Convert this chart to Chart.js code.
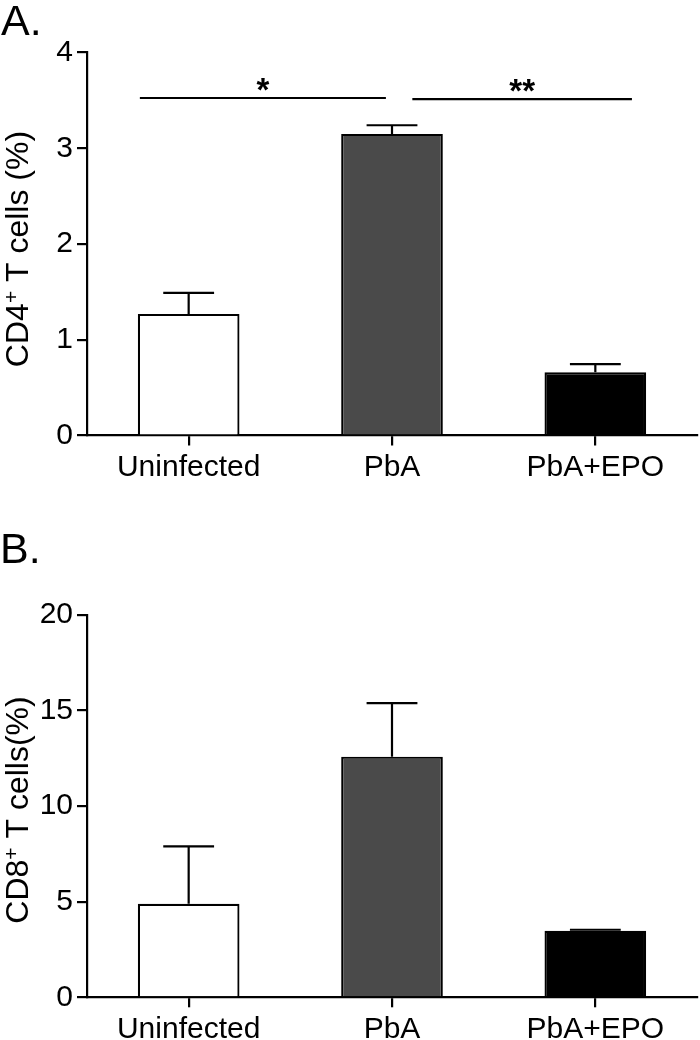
<!DOCTYPE html>
<html><head><meta charset="utf-8">
<script src="https://cdn.jsdelivr.net/npm/chart.js@4.4.0/dist/chart.umd.min.js"></script>
<style>
html,body{margin:0;padding:0;background:#fff;}
#wrap{position:relative;width:700px;height:1040px;overflow:hidden;}
.box{position:absolute;left:0;width:700px;height:520px;}
canvas{display:block;}
</style></head><body>
<div id="wrap">
<div class="box" style="top:0"><canvas id="cA" width="700" height="520"></canvas></div>
<div class="box" style="top:520px"><canvas id="cB" width="700" height="520"></canvas></div>
</div>
<script>
// ---- data ----
const categories = ['Uninfected', 'PbA', 'PbA+EPO'];
const cd4Means = [1.27, 3.15, 0.66];
const cd4Errors = [0.22, 0.09, 0.085];
const cd8Means = [4.89, 12.58, 3.48];
const cd8Errors = [3.0, 2.8, 0.05];
const cd4Ticks = [0, 1, 2, 3, 4];
const cd8Ticks = [0, 5, 10, 15, 20];
const cd4SigFrom = [-0.24, 1.10];
const cd4SigTo = [0.97, 2.18];
const cd4SigLevel = [3.525, 3.514];
const cd4SigLabel = ['*', '**'];
const barColors = ['#ffffff', '#4a4a4a', '#000000'];

const FONT = '"Liberation Sans", Arial, Helvetica, sans-serif';

const errorBarPlugin = {
  id: 'errbars',
  afterDatasetsDraw(chart, args, opts) {
    const ctx = chart.ctx, y = chart.scales.y;
    const meta = chart.getDatasetMeta(0);
    ctx.save();
    ctx.strokeStyle = '#000'; ctx.lineWidth = 2.2;
    meta.data.forEach((el, i) => {
      const top = y.getPixelForValue(opts.means[i] + opts.errors[i]);
      const half = el.width / 4;
      ctx.beginPath();
      ctx.moveTo(el.x, el.y); ctx.lineTo(el.x, top);
      ctx.moveTo(el.x - half, top); ctx.lineTo(el.x + half, top);
      ctx.stroke();
    });
    ctx.restore();
  }
};

const sigPlugin = {
  id: 'sig',
  afterDatasetsDraw(chart, args, opts) {
    if (!opts.from) return;
    const ctx = chart.ctx, x = chart.scales.x, y = chart.scales.y;
    ctx.save();
    ctx.strokeStyle = '#000'; ctx.fillStyle = '#000'; ctx.lineWidth = 2.2;
    ctx.font = 'bold 33px ' + FONT; ctx.textAlign = 'center'; ctx.textBaseline = 'alphabetic';
    opts.from.forEach((f, i) => {
      const x1 = x.getPixelForValue(f), x2 = x.getPixelForValue(opts.to[i]);
      const yy = y.getPixelForValue(opts.level[i]);
      ctx.beginPath(); ctx.moveTo(x1, yy); ctx.lineTo(x2, yy); ctx.stroke();
      ctx.fillText(opts.label[i], (x1 + x2) / 2, yy + 3);
    });
    ctx.restore();
  }
};

const titlePlugin = {
  id: 'ytitle',
  afterDraw(chart, args, opts) {
    const ctx = chart.ctx, a = chart.chartArea;
    ctx.save();
    ctx.fillStyle = '#000';
    // panel letter
    ctx.font = '43px ' + FONT; ctx.textAlign = 'left'; ctx.textBaseline = 'alphabetic';
    ctx.fillText(opts.letter, opts.letterX, opts.letterY);
    // rotated y title with superscript
    ctx.translate(opts.x, (a.top + a.bottom) / 2 + opts.dy);
    ctx.rotate(-Math.PI / 2);
    const big = '32px ' + FONT, small = '21px ' + FONT;
    ctx.font = big; const w1 = ctx.measureText(opts.pre).width; const w3 = ctx.measureText(opts.post).width;
    ctx.font = small; const w2 = ctx.measureText(opts.sup).width;
    let px = -(w1 + w2 + w3) / 2;
    ctx.font = big; ctx.fillText(opts.pre, px, 0); px += w1;
    ctx.font = small; ctx.fillText(opts.sup, px, -10); px += w2;
    ctx.font = big; ctx.fillText(opts.post, px, 0);
    ctx.restore();
  }
};

function makeChart(id, means, errors, ticksArr, geom, titleOpts, sigOpts) {
  return new Chart(document.getElementById(id), {
    type: 'bar',
    data: {
      labels: categories,
      datasets: [{
        data: means,
        backgroundColor: barColors,
        borderColor: '#000',
        borderWidth: 2.2,
        borderSkipped: 'start',
        barPercentage: 0.5,
        categoryPercentage: 1.0
      }]
    },
    options: {
      responsive: false,
      animation: false,
      devicePixelRatio: 1,
      layout: { padding: { top: geom.top, right: 3, left: 0, bottom: 0 } },
      plugins: {
        legend: { display: false },
        tooltip: { enabled: false },
        errbars: { means: means, errors: errors },
        sig: sigOpts,
        ytitle: titleOpts
      },
      scales: {
        x: {
          offset: true,
          grid: { display: true, drawOnChartArea: false, drawTicks: true, tickLength: 10, offset: false, color: '#000', lineWidth: 2.2 },
          border: { display: true, color: '#000', width: 2.2 },
          ticks: { color: '#000', font: { size: 30, family: FONT }, padding: 4, maxRotation: 0, autoSkip: false },
          afterFit: s => { s.height = geom.xh; }
        },
        y: {
          min: ticksArr[0],
          max: ticksArr[ticksArr.length - 1],
          afterBuildTicks: s => { s.ticks = ticksArr.map(v => ({ value: v })); },
          grid: { display: true, drawOnChartArea: false, drawTicks: true, tickLength: 10, color: '#000', lineWidth: 2.2 },
          border: { display: true, color: '#000', width: 2.2 },
          ticks: { color: '#000', font: { size: 30, family: FONT }, padding: 4 },
          afterFit: s => { s.width = 87; }
        }
      }
    },
    plugins: [errorBarPlugin, sigPlugin, titlePlugin]
  });
}

makeChart('cA', cd4Means, cd4Errors, cd4Ticks, { top: 52.5, xh: 84.5 },
  { letter: 'A.', letterX: 1, letterY: 35, x: 28, dy: 5, pre: 'CD4', sup: '+', post: ' T cells (%)' },
  { from: cd4SigFrom, to: cd4SigTo, level: cd4SigLevel, label: cd4SigLabel });

makeChart('cB', cd8Means, cd8Errors, cd8Ticks, { top: 94.7, xh: 42.7 },
  { letter: 'B.', letterX: 0, letterY: 43, x: 28, dy: 4, pre: 'CD8', sup: '+', post: ' T cells(%)' },
  {});
</script>
</body></html>
